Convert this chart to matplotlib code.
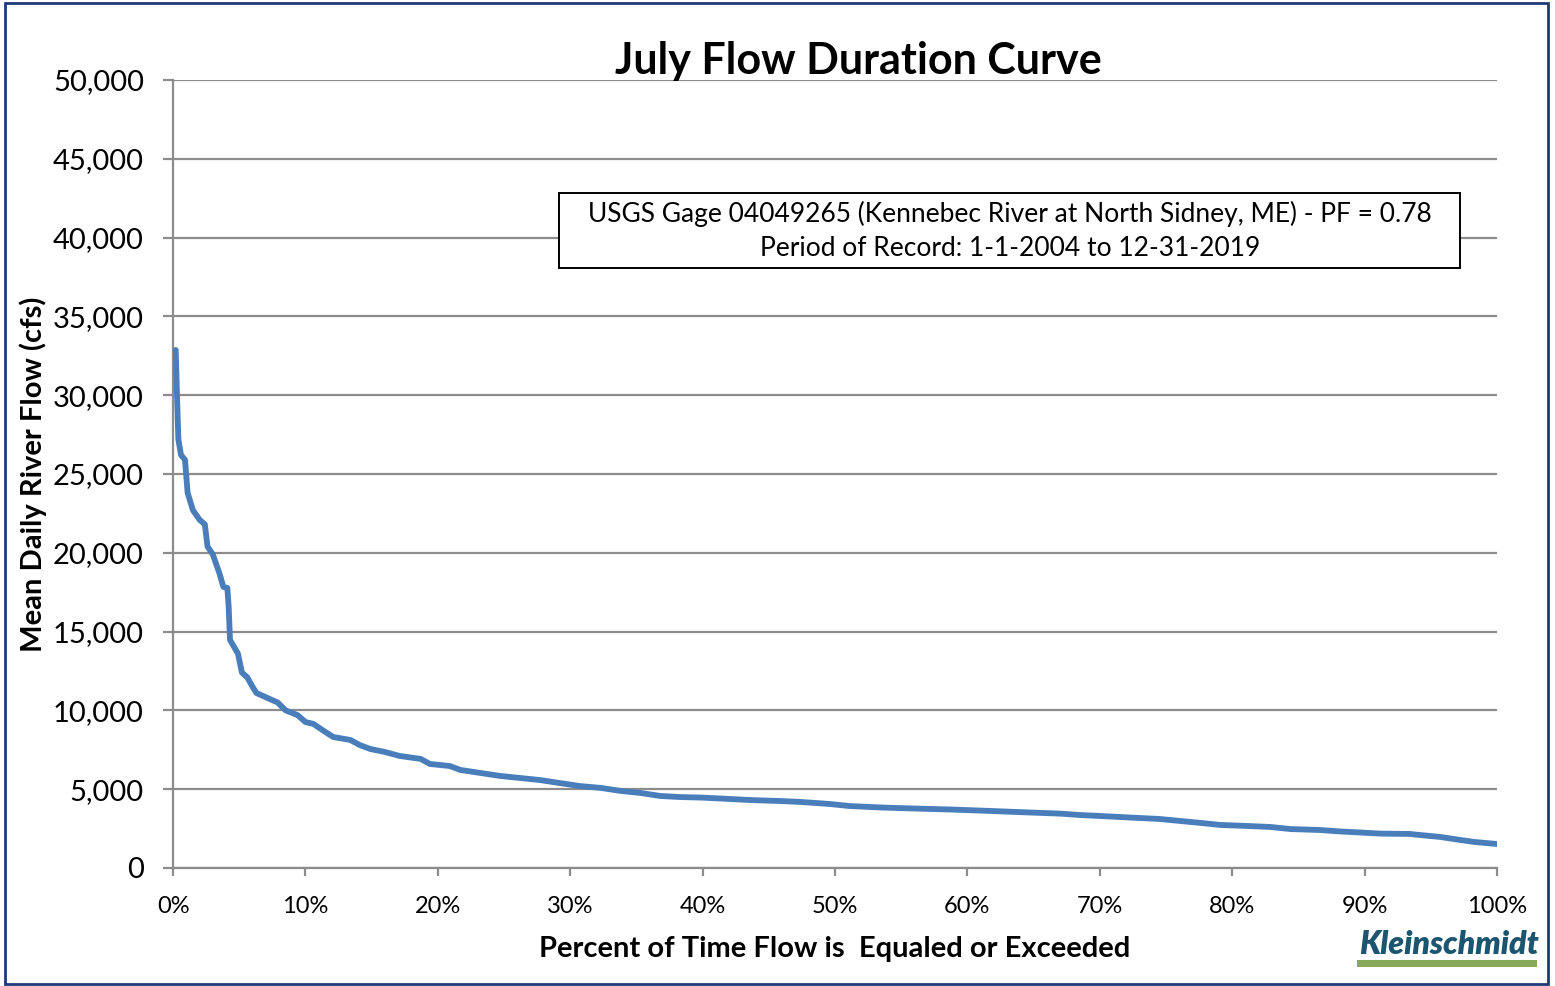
import matplotlib.pyplot as plt
from matplotlib.patches import Rectangle
from matplotlib.ticker import FuncFormatter

plt.rcParams['font.family'] = ['Lato', 'DejaVu Sans']

# percent of time exceeded vs mean daily flow (cfs)
pct = [0.2, 0.3, 0.4, 0.6, 0.9, 1.1, 1.5, 2.0, 2.4, 2.6, 3.0, 3.5, 3.8, 4.1, 4.2,
       4.3, 4.9, 5.2, 5.6, 6.0, 6.3, 7.1, 7.9, 8.5, 9.4, 10.0, 10.6, 11.5, 12.1,
       13.4, 14.1, 14.9, 16.0, 17.1, 18.7, 19.4, 20.9, 21.7, 23.2, 24.7, 26.2,
       27.7, 29.2, 30.7, 32.3, 33.8, 35.3, 36.8, 38.3, 39.8, 41.3, 43.6, 45.8,
       47.4, 49.6, 51.1, 53.4, 55.7, 58.7, 61.7, 64.7, 67.0, 68.5, 70.0, 72.3,
       74.5, 76.1, 77.6, 79.1, 81.3, 82.9, 84.4, 86.6, 88.1, 89.7, 91.2, 93.4,
       94.2, 95.7, 97.2, 98.3, 100.0]
flow = [32870, 29900, 27200, 26200, 25900, 23800, 22700, 22100, 21800, 20400,
        19900, 18700, 17830, 17770, 16560, 14470, 13600, 12400, 12100, 11500,
        11100, 10800, 10500, 10000, 9700, 9260, 9140, 8630, 8310, 8120, 7800,
        7550, 7360, 7110, 6920, 6600, 6470, 6220, 6030, 5840, 5710, 5580, 5390,
        5200, 5080, 4890, 4760, 4570, 4500, 4470, 4410, 4310, 4250, 4190, 4060,
        3930, 3840, 3780, 3710, 3620, 3520, 3450, 3360, 3300, 3200, 3110, 2980,
        2860, 2730, 2660, 2600, 2470, 2410, 2320, 2250, 2180, 2160, 2090, 1970,
        1780, 1650, 1520]

yticks = list(range(0, 50001, 5000))
xticks = list(range(0, 101, 10))

fig = plt.figure(figsize=(15.55, 9.86), dpi=100)
ax = fig.add_axes([0.1113, 0.1197, 0.8514, 0.7992])

ax.plot(pct, flow, color='#4a7ebb', linewidth=4.2, solid_capstyle='round',
        solid_joinstyle='round', zorder=3)

ax.set_xlim(0, 100)
ax.set_ylim(0, 50000)
ax.set_xticks(xticks)
ax.set_yticks(yticks)
ax.xaxis.set_major_formatter(FuncFormatter(lambda v, p: f"{int(v)}%"))
ax.yaxis.set_major_formatter(FuncFormatter(lambda v, p: f"{int(v):,}"))
ax.grid(axis='y', color='#8c8c8c', linewidth=1.6)
ax.set_axisbelow(True)
for s in ['top', 'right']:
    ax.spines[s].set_visible(False)
for s in ['left', 'bottom']:
    ax.spines[s].set_color('#8c8c8c')
    ax.spines[s].set_linewidth(1.6)
ax.tick_params(axis='y', labelsize=21, length=7, width=1.6, color='#8c8c8c', pad=14)
ax.tick_params(axis='x', labelsize=17, length=6, width=1.6, color='#8c8c8c', pad=14)

ax.set_xlabel("Percent of Time Flow is  Equaled or Exceeded", fontsize=21,
              fontweight='bold', labelpad=14)
ax.set_ylabel("Mean Daily River Flow (cfs)", fontsize=21, fontweight='bold', labelpad=4)
fig.text(0.552, 0.938, "July Flow Duration Curve", fontsize=31, fontweight='bold',
         ha='center', va='center')

# annotation box
ax.add_patch(Rectangle((29.15, 38070), 68.05, 4760, facecolor='white',
                       edgecolor='black', linewidth=1.4, zorder=4))
ax.text(63.2, 40450, "USGS Gage 04049265 (Kennebec River at North Sidney, ME) - PF = 0.78\n"
        "Period of Record: 1-1-2004 to 12-31-2019", fontsize=19, ha='center',
        va='center', linespacing=1.45, zorder=5)

# logo
fig.text(0.932, 0.042, "Kleinschmidt", fontsize=23, fontweight='heavy',
         fontstyle='italic', color='#1b5570', ha='center', va='center')
fig.patches.append(Rectangle((0.8727, 0.0193), 0.1157, 0.0071, transform=fig.transFigure,
                             facecolor='#86a95a', edgecolor='none'))

# outer frame
fig.patches.append(Rectangle((0.0035, 0.002), 0.992, 0.995, transform=fig.transFigure,
                             fill=False, edgecolor='#1f3a78', linewidth=2))

fig.savefig("out.png", dpi=100)
